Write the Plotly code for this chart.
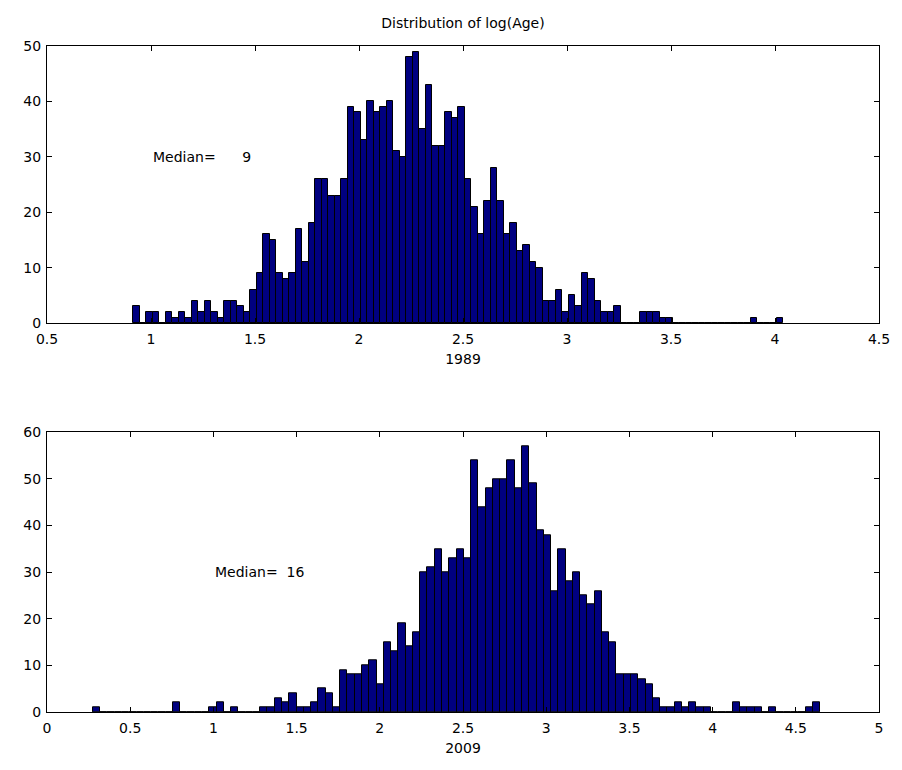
import numpy as np
import plotly.graph_objects as go

# ---- data (histogram counts, 100 bins each) ----
lo_1989, hi_1989 = 0.914, 4.040
counts_1989 = [
    3, 0, 2, 2, 0, 2, 1, 2, 1, 4,
    2, 4, 2, 1, 4, 4, 3, 2, 6, 9,
    16, 15, 9, 8, 9, 17, 11, 18, 26, 26,
    23, 23, 26, 39, 38, 33, 40, 38, 39, 40,
    31, 30, 48, 49, 35, 43, 32, 32, 38, 37,
    39, 26, 21, 16, 22, 28, 22, 16, 18, 13,
    14, 11, 10, 4, 4, 6, 2, 5, 3, 9,
    8, 4, 2, 2, 3, 0, 0, 0, 2, 2,
    2, 1, 1, 0, 0, 0, 0, 0, 0, 0,
    0, 0, 0, 0, 0, 1, 0, 0, 0, 1,
]

lo_2009, hi_2009 = 0.276, 4.646
counts_2009 = [
    1, 0, 0, 0, 0, 0, 0, 0, 0, 0,
    0, 2, 0, 0, 0, 0, 1, 2, 0, 1,
    0, 0, 0, 1, 1, 3, 2, 4, 1, 1,
    2, 5, 4, 1, 9, 8, 8, 10, 11, 6,
    15, 13, 19, 14, 17, 30, 31, 35, 30, 33,
    35, 33, 54, 44, 48, 50, 50, 54, 48, 57,
    49, 39, 38, 26, 35, 28, 30, 25, 23, 26,
    17, 15, 8, 8, 8, 7, 6, 3, 1, 1,
    2, 1, 2, 1, 1, 0, 0, 0, 2, 1,
    1, 1, 0, 1, 0, 0, 0, 0, 1, 2,
]

title_text = "Distribution of log(Age)"
label_1989 = "1989"
label_2009 = "2009"
median_1989 = "Median=" + "\u00a0" * 6 + "9"
median_2009 = "Median=" + "\u00a0" * 2 + "16"


def centers(lo, hi, n):
    edges = np.linspace(lo, hi, n + 1)
    return (edges[:-1] + edges[1:]) / 2, (hi - lo) / n


x1, w1 = centers(lo_1989, hi_1989, len(counts_1989))
x2, w2 = centers(lo_2009, hi_2009, len(counts_2009))

FONT = "DejaVu Sans"
FS = 14
TF = dict(family=FONT, size=FS, color="black")
bar_style = dict(marker=dict(color="#000080", line=dict(color="black", width=1)))

fig = go.Figure()
fig.add_trace(go.Bar(x=x1, y=counts_1989, width=w1, xaxis="x", yaxis="y",
                     showlegend=False, **bar_style))
fig.add_trace(go.Bar(x=x2, y=counts_2009, width=w2, xaxis="x2", yaxis="y2",
                     showlegend=False, **bar_style))

axis_common = dict(showline=True, linecolor="black", linewidth=1, mirror="ticks",
                   ticks="inside", ticklen=5, tickcolor="black", showgrid=False,
                   zeroline=False, tickfont=TF)

fig.update_layout(
    width=902, height=770,
    margin=dict(l=47, r=14, t=46, b=58),
    paper_bgcolor="white", plot_bgcolor="white",
    bargap=0,
    font=TF,
    title=dict(text=title_text, x=0.5, xref="paper", y=1 - 23 / 770, yanchor="middle",
               font=TF),
    xaxis=dict(domain=[0, 1], range=[0.5, 4.5], tick0=0.5, dtick=0.5, anchor="y",
               ticklabelstandoff=3,
               title=dict(text=label_1989, standoff=8, font=TF), **axis_common),
    yaxis=dict(domain=[0.584, 1], range=[0, 50], dtick=10, anchor="x",
               ticklabelstandoff=2, **axis_common),
    xaxis2=dict(domain=[0, 1], range=[0, 5], tick0=0, dtick=0.5, anchor="y2",
                ticklabelstandoff=3,
                title=dict(text=label_2009, standoff=8, font=TF), **axis_common),
    yaxis2=dict(domain=[0, 0.42], range=[0, 60], dtick=10, anchor="x2",
                ticklabelstandoff=2, **axis_common),
    annotations=[
        dict(text=median_1989, x=1.0, y=30, xref="x", yref="y", xanchor="left",
             yanchor="middle", showarrow=False, font=TF),
        dict(text=median_2009, x=1.0, y=30, xref="x2", yref="y2", xanchor="left",
             yanchor="middle", showarrow=False, font=TF),
    ],
)

fig.write_html("out.html")
